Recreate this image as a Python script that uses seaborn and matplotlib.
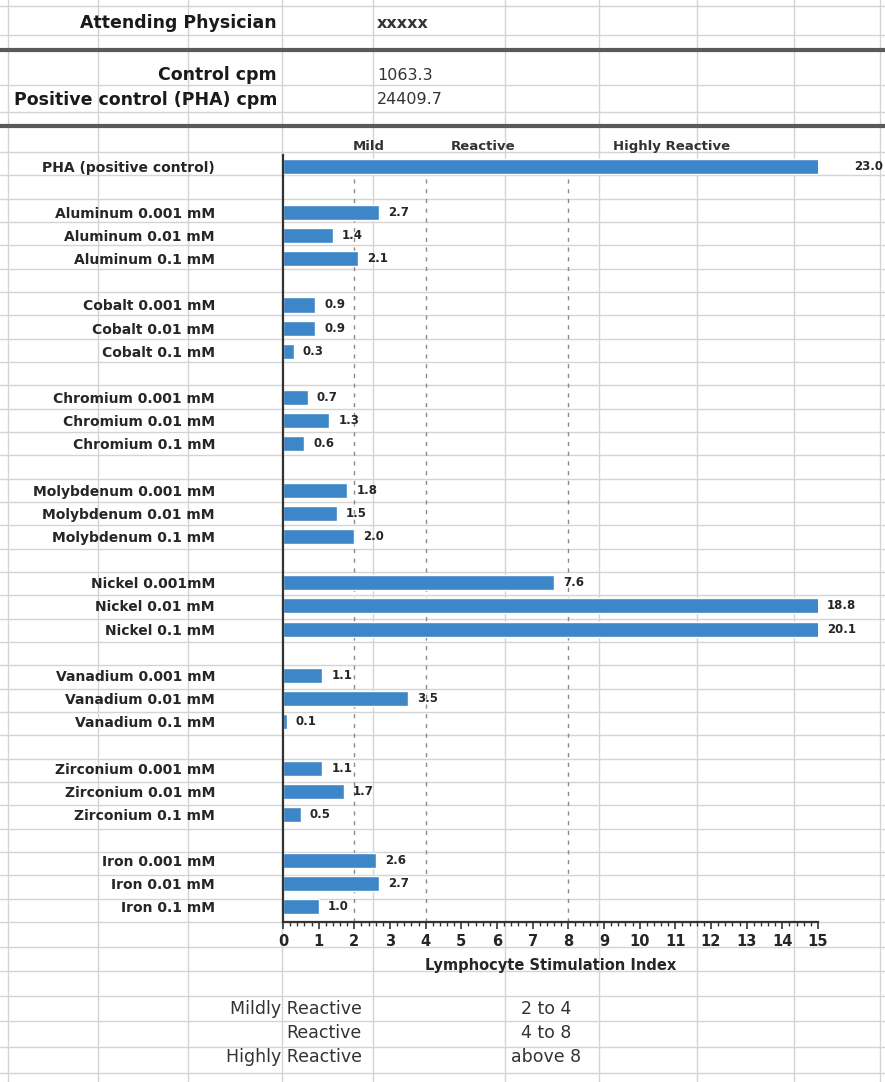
import numpy as np
import pandas as pd
import matplotlib
matplotlib.use("Agg")
import matplotlib.pyplot as plt
from matplotlib.ticker import MultipleLocator
import seaborn as sns

sns.set_theme(style="white")
plt.rcParams['font.family'] = ['DejaVu Sans']

# header block of the sheet
header_keys = ["Attending Physician", "Control cpm", "Positive control (PHA) cpm"]
header_vals = ["xxxxx", "1063.3", "24409.7"]

# bars (PHA first, then 8 metals x 3 concentrations)
labels = [
    "PHA (positive control)",
    "Aluminum 0.001 mM", "Aluminum 0.01 mM", "Aluminum 0.1 mM",
    "Cobalt 0.001 mM", "Cobalt 0.01 mM", "Cobalt 0.1 mM",
    "Chromium 0.001 mM", "Chromium 0.01 mM", "Chromium 0.1 mM",
    "Molybdenum 0.001 mM", "Molybdenum 0.01 mM", "Molybdenum 0.1 mM",
    "Nickel 0.001mM", "Nickel 0.01 mM", "Nickel 0.1 mM",
    "Vanadium 0.001 mM", "Vanadium 0.01 mM", "Vanadium 0.1 mM",
    "Zirconium 0.001 mM", "Zirconium 0.01 mM", "Zirconium 0.1 mM",
    "Iron 0.001 mM", "Iron 0.01 mM", "Iron 0.1 mM",
]
values = [
    23.0,
    2.7, 1.4, 2.1,
    0.9, 0.9, 0.3,
    0.7, 1.3, 0.6,
    1.8, 1.5, 2.0,
    7.6, 18.8, 20.1,
    1.1, 3.5, 0.1,
    1.1, 1.7, 0.5,
    2.6, 2.7, 1.0,
]
group_sizes = [1, 3, 3, 3, 3, 3, 3, 3, 3]

# reactivity bands
bounds = [2, 4, 8]
band_names = ["Mild", "Reactive", "Highly Reactive"]
legend_names = ["Mildly Reactive", "Reactive", "Highly Reactive"]
legend_ranges = ["2 to 4", "4 to 8", "above 8"]

bar_color = "#3d86c8"
xmax = 15

# one empty row between groups
positions = []
p = 0
for n in group_sizes:
    for _ in range(n):
        positions.append(p)
        p += 1
    p += 1

df = pd.DataFrame({"label": labels, "value": values, "pos": positions})

W, H = 885, 1082
fig = plt.figure(figsize=(W / 100, H / 100), dpi=100)

# spreadsheet background
bg = fig.add_axes([0, 0, 1, 1], zorder=0)
bg.set_xlim(0, W)
bg.set_ylim(H, 0)
bg.axis("off")
grid_c = "#d4d4d4"
for x in [8, 98, 188, 282, 373, 505, 599, 697, 794, 880]:
    bg.axvline(x, color=grid_c, lw=1)
rows = [6, 35, 85, 112] + list(np.linspace(152, 922, 34)) + [947, 971, 996, 1021, 1047, 1073]
for y in rows:
    bg.axhline(y, color=grid_c, lw=1)
for y in [50, 126]:
    bg.axhline(y, color="#5a5a5a", lw=3)

for key, val, y in zip(header_keys, header_vals, [23, 75, 100]):
    bg.text(277, y, key, ha="right", va="center", fontsize=12.5, fontweight="bold", color="#1a1a1a")
    bold = "bold" if val == "xxxxx" else "normal"
    bg.text(377, y, val, ha="left", va="center", fontsize=11.5, fontweight=bold, color="#333333")

for name, rng, y in zip(legend_names, legend_ranges, [1009, 1033, 1057]):
    bg.text(362, y, name, ha="right", va="center", fontsize=12.5, color="#333333")
    bg.text(546, y, rng, ha="center", va="center", fontsize=12.5, color="#333333")

# chart
ax = fig.add_axes([283 / W, 1 - 922 / H, 535 / W, (922 - 154.5) / H], zorder=1)
ax.patch.set_alpha(0)

sns.barplot(data=df, x="value", y="pos", orient="h", native_scale=True,
            color=bar_color, saturation=1, width=0.65, ax=ax)

ax.set_xlim(0, xmax)
ax.set_ylim(positions[-1] + 0.65, -0.5)
ax.grid(False)

for b in bounds:
    ax.axvline(b, color="#8a8a8a", lw=1, ls=(0, (3, 4)), zorder=0.5)

for name, cx in zip(band_names, [2.4, 5.6, 10.9]):
    ax.annotate(name, xy=(cx, 1), xycoords=("data", "axes fraction"), xytext=(0, 5.5),
                textcoords="offset points", ha="center", va="center",
                fontsize=9.5, fontweight="bold", color="#333333")

for i, (v, pos) in enumerate(zip(values, positions)):
    off = 26 if i == 0 else 6.5
    ax.annotate(f"{v:.1f}", xy=(min(v, xmax), pos), xytext=(off, 0),
                textcoords="offset points", ha="left", va="center",
                fontsize=8.5, fontweight="bold", color="#262626", annotation_clip=False)

ax.set_yticks(positions, labels, fontsize=10, fontweight="bold", color="#262626")
ax.tick_params(axis="y", length=0, pad=49)

ax.set_xticks(range(xmax + 1), [str(t) for t in range(xmax + 1)],
              fontsize=10.5, fontweight="bold", color="#262626")
ax.xaxis.set_minor_locator(MultipleLocator(0.2))
ax.tick_params(axis="x", which="major", bottom=True, length=5, width=1.2, color="#333333", pad=4)
ax.tick_params(axis="x", which="minor", bottom=True, length=3, width=1, color="#333333")
ax.set_xlabel("Lymphocyte Stimulation Index", fontsize=10.5, fontweight="bold",
              color="#262626", labelpad=6)
ax.set_ylabel("")

for s in ["top", "right"]:
    ax.spines[s].set_visible(False)
for s in ["left", "bottom"]:
    ax.spines[s].set_color("#333333")
    ax.spines[s].set_linewidth(1.6)

fig.savefig("out.png", dpi=100)
